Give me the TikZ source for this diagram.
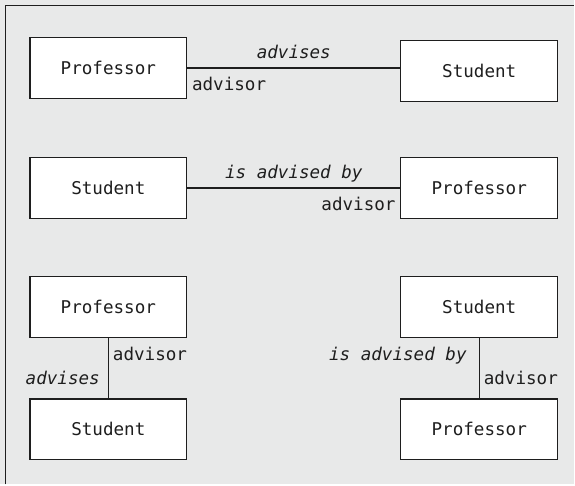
\documentclass[tikz,border=0pt]{standalone}
\usepackage{fontspec}
\setmonofont{DejaVu Sans Mono}
\usetikzlibrary{positioning}
\definecolor{panel}{RGB}{232,233,233}
\definecolor{ink}{RGB}{30,30,30}

\begin{document}
\begin{tikzpicture}[
x=1pt,
y=-1pt,
node distance=58pt and 213pt,
font=\ttfamily\fontsize{17.6}{20}\selectfont,
text=ink,
entity/.style={
draw=ink,
fill=white,
line width=1.3pt,
minimum width=157pt,
minimum height=61pt
},
role/.style={
inner xsep=4pt,
inner ysep=9pt,
text height=13pt,
text depth=4pt
},
verb/.style={
inner xsep=4pt,
inner ysep=5pt,
text height=13pt,
text depth=4pt,
font=\ttfamily\itshape\fontsize{17.6}{20}\selectfont
}
]

% panel
\fill[panel] (0,0) rectangle (575,485);
\draw[ink,line width=1.4pt] (5.5,485) |- (575,5.5);

% first row
\node[entity] (prof1) at (108.5,68) {Professor};
\node[entity,right=of prof1,yshift=-3pt] (stud1) {Student};

% second row
\node[entity,below=of prof1] (stud2) {Student};
\node[entity,right=of stud2] (prof2) {Professor};

% vertical pairs
\node[entity,below=57pt of stud2] (prof3) {Professor};
\node[entity,below=60pt of prof3] (stud3) {Student};
\node[entity,right=of prof3] (stud4) {Student};
\node[entity,right=of stud3] (prof4) {Professor};

\draw[ink,line width=1.2pt] (prof1.east) -- (prof1.east -| stud1.west)
node[verb,pos=.5,above]{advises}
node[role,pos=0,below right]{advisor};
\draw[ink,line width=1.2pt] (stud2) -- (prof2)
node[verb,pos=.5,above]{is advised by}
node[role,pos=1,below left]{advisor};
\draw[ink,line width=1.2pt] (prof3) -- (stud3)
node[role,pos=.3,right]{advisor}
node[verb,pos=.7,left,xshift=-4pt]{advises};
\draw[ink,line width=1.2pt] (stud4) -- (prof4)
node[verb,pos=.3,left,xshift=-8pt]{is advised by}
node[role,pos=.7,right]{advisor};

\end{tikzpicture}
\end{document}
